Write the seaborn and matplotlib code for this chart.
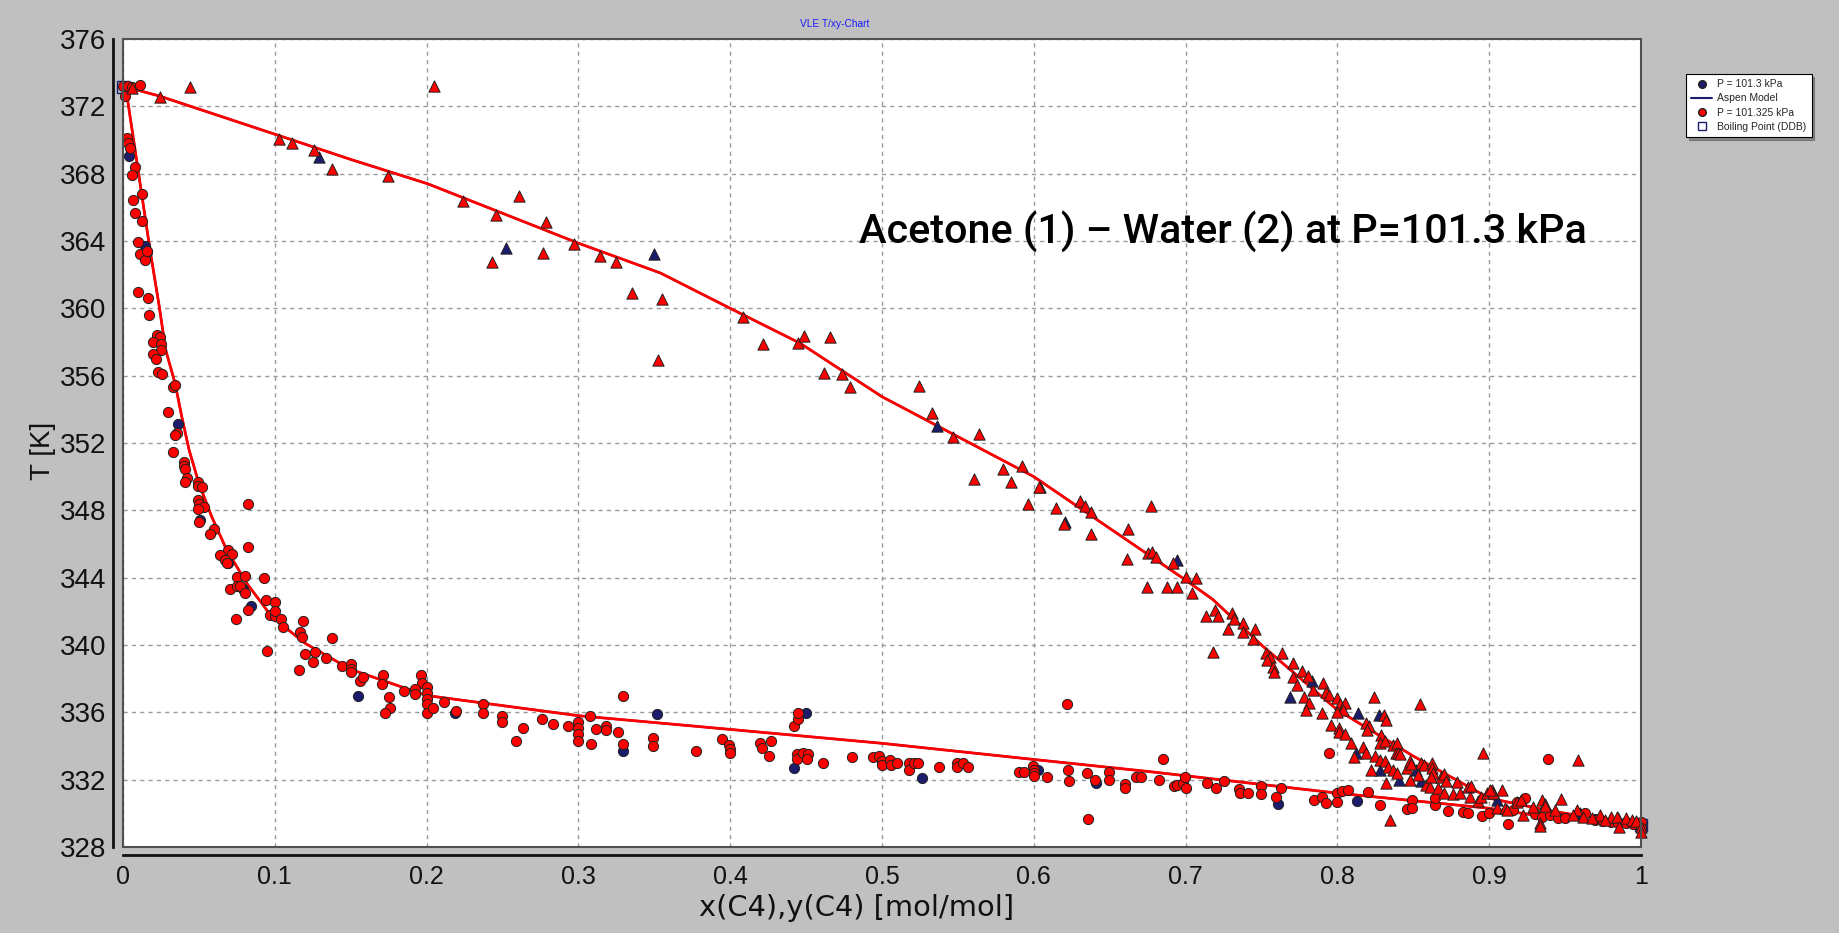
import numpy as np
import pandas as pd
import matplotlib
matplotlib.use("Agg")
import matplotlib.pyplot as plt
from matplotlib.lines import Line2D
from matplotlib.patches import Rectangle
from matplotlib.ticker import FixedLocator, FixedFormatter, MultipleLocator
import seaborn as sns

# ---------------------------------------------------------------- data
# Liquid phase x(1) [mol/mol], T [K]  -- P = 101.325 kPa (red)
liq_red_x = [0.000, 0.003, 0.006, 0.0112, 0.0013, 0.0024, 0.0030, 0.0046, 0.0079, 0.0057,
             0.0123, 0.0068, 0.0079, 0.0123, 0.0101, 0.016, 0.0112, 0.0145, 0.0156, 0.0097,
             0.0163, 0.0171, 0.0222, 0.0244, 0.0196, 0.025, 0.025, 0.0196, 0.0215, 0.0228,
             0.0259, 0.0332, 0.0345, 0.0299, 0.0354, 0.0345, 0.0327, 0.0402, 0.0404, 0.0409,
             0.042, 0.0409, 0.0497, 0.0497, 0.0518, 0.0497, 0.0499, 0.0536, 0.0497, 0.0821,
             0.0499, 0.06, 0.0573, 0.0821, 0.0694, 0.0716, 0.0639, 0.0672, 0.0683, 0.0749,
             0.0804, 0.0931, 0.0705, 0.0749, 0.0768, 0.0804, 0.094, 0.1001, 0.0742, 0.0821,
             0.0971, 0.1, 0.1, 0.104, 0.1056, 0.0946, 0.1188, 0.1166, 0.118, 0.12,
             0.1162, 0.1265, 0.1254, 0.1379, 0.1337, 0.144, 0.1502, 0.1502, 0.15, 0.1561,
             0.158, 0.171, 0.1706, 0.1752, 0.1759, 0.1726, 0.1851, 0.1961, 0.1968, 0.1924,
             0.1924, 0.2, 0.2, 0.2, 0.2, 0.2, 0.204, 0.2117, 0.2194, 0.237,
             0.237, 0.2499, 0.2499, 0.2633, 0.2589, 0.2762, 0.2835, 0.293, 0.2995, 0.2995,
             0.2995, 0.2995, 0.3076, 0.3081, 0.3116, 0.318, 0.318, 0.3259, 0.3296, 0.3296,
             0.3494, 0.3494, 0.3773, 0.3944, 0.3992, 0.4, 0.4, 0.4196, 0.4207, 0.4269,
             0.4256, 0.4422, 0.4444, 0.4444, 0.4438, 0.4438, 0.4481, 0.4513, 0.4509, 0.4609,
             0.48, 0.4943, 0.4983, 0.5, 0.5, 0.5053, 0.5057, 0.5096, 0.518, 0.518,
             0.521, 0.5239, 0.5378, 0.5492, 0.5496, 0.5536, 0.5568, 0.5905, 0.5936, 0.5993,
             0.6, 0.6, 0.6, 0.6085, 0.6217, 0.6227, 0.6234, 0.6349, 0.6403, 0.6359,
             0.6497, 0.6497, 0.66, 0.66, 0.6673, 0.6704, 0.6849, 0.6827, 0.6924, 0.6946,
             0.6981, 0.6997, 0.7, 0.7143, 0.72, 0.7253, 0.7354, 0.7358, 0.7409, 0.7495,
             0.7495, 0.7596, 0.7627, 0.7947, 0.7848, 0.7897, 0.7925, 0.7995, 0.7995, 0.8028,
             0.8072, 0.82, 0.8281, 0.8461, 0.849, 0.849, 0.8643, 0.8643, 0.8727, 0.8826,
             0.8858, 0.895, 0.9, 0.9126, 0.916, 0.918, 0.9236, 0.939, 0.93, 0.935,
             0.94, 0.945, 0.95, 0.9631, 0.97, 0.975, 0.98, 0.985, 0.99, 0.995,
             1.0, 1.0, 1.0]
liq_red_T = [373.2, 373.2, 373.15, 373.28, 372.62, 370.1, 369.8, 369.5, 368.4, 367.9,
             366.78, 366.44, 365.65, 365.2, 363.93, 363.33, 363.2, 362.9, 363.4, 361.0,
             360.6, 359.6, 358.4, 358.3, 358.0, 357.9, 357.5, 357.3, 357.0, 356.2,
             356.1, 355.35, 355.45, 353.87, 352.6, 352.45, 351.45, 350.9, 350.66, 350.44,
             349.95, 349.7, 349.7, 349.45, 349.37, 348.6, 348.36, 348.22, 348.1, 348.36,
             347.3, 346.9, 346.6, 345.8, 345.65, 345.4, 345.35, 345.05, 344.85, 344.06,
             344.1, 344.0, 343.3, 343.5, 343.5, 343.1, 342.7, 342.53, 341.55, 342.1,
             341.8, 341.7, 342.0, 341.53, 341.05, 339.65, 341.45, 340.8, 340.5, 339.45,
             338.5, 339.6, 339.0, 340.43, 339.25, 338.77, 338.85, 338.6, 338.4, 337.86,
             338.1, 338.2, 337.7, 336.93, 336.24, 335.94, 337.29, 338.22, 337.73, 337.4,
             337.1, 337.52, 337.12, 336.78, 336.5, 335.98, 336.24, 336.63, 336.08, 336.5,
             335.95, 335.8, 335.45, 335.05, 334.32, 335.58, 335.3, 335.2, 335.45, 335.09,
             334.7, 334.32, 335.8, 334.1, 334.99, 335.2, 334.95, 334.81, 336.97, 334.1,
             334.5, 333.98, 333.72, 334.4, 334.06, 333.8, 333.57, 334.2, 333.9, 334.32,
             333.43, 335.2, 335.6, 335.94, 333.53, 333.2, 333.6, 333.53, 333.25, 333.0,
             333.33, 333.37, 333.4, 333.1, 332.9, 333.17, 332.9, 333.0, 333.0, 332.6,
             333.0, 332.97, 332.73, 333.0, 332.73, 333.0, 332.73, 332.43, 332.43, 332.83,
             332.6, 332.4, 332.23, 332.14, 336.5, 332.6, 331.9, 332.42, 332.0, 329.65,
             332.43, 332.0, 331.72, 331.5, 332.18, 332.18, 333.2, 331.98, 331.62, 331.68,
             331.82, 332.18, 331.5, 331.78, 331.52, 331.94, 331.43, 331.2, 331.19, 331.64,
             331.12, 330.99, 331.52, 333.6, 330.8, 330.99, 330.63, 331.23, 330.7, 331.3,
             331.4, 331.29, 330.5, 330.26, 330.8, 330.3, 330.5, 330.9, 330.16, 330.1,
             330.02, 329.84, 330.0, 329.37, 330.2, 330.7, 330.9, 333.2, 329.95, 329.8,
             329.9, 329.75, 329.7, 330.0, 329.6, 329.55, 329.5, 329.45, 329.4, 329.35,
             329.3, 329.5, 329.15]

# Liquid phase -- P = 101.3 kPa (navy)
liq_navy_x = [0.0042, 0.0145, 0.036, 0.0507, 0.0694, 0.079, 0.0843, 0.1546, 0.2187, 0.3296,
              0.3515, 0.4497, 0.4422, 0.5261, 0.603, 0.641, 0.7607, 0.8127, 0.97, 0.99]
liq_navy_T = [369.06, 363.7, 353.1, 347.4, 344.9, 343.3, 342.3, 336.97, 335.98, 333.72,
              335.9, 335.94, 332.67, 332.08, 332.6, 331.8, 330.55, 330.73, 329.65, 329.5]

# Vapour phase y(1) [mol/mol], T [K]  -- P = 101.325 kPa (red)
vap_red_y = [0.0057, 0.0441, 0.0244, 0.2048, 0.1028, 0.1115, 0.1258, 0.1379, 0.1744, 0.2238,
             0.2611, 0.2457, 0.2787, 0.2429, 0.2769, 0.2971, 0.3142, 0.3248, 0.3351, 0.3549,
             0.3522, 0.4086, 0.4218, 0.4444, 0.4488, 0.4657, 0.4618, 0.4739, 0.4789, 0.5246,
             0.5332, 0.547, 0.5641, 0.5606, 0.5799, 0.585, 0.592, 0.6036, 0.5964, 0.6146,
             0.62, 0.6304, 0.6337, 0.6375, 0.6375, 0.6623, 0.6616, 0.677, 0.6755, 0.6777,
             0.6805, 0.6919, 0.6748, 0.688, 0.6941, 0.7001, 0.7066, 0.7044, 0.7134, 0.7194,
             0.7216, 0.7303, 0.7321, 0.7282, 0.738, 0.738, 0.7457, 0.7446, 0.7183, 0.753,
             0.7556, 0.7534, 0.7633, 0.7574, 0.7582, 0.7705, 0.7705, 0.7736, 0.7765, 0.7809,
             0.7903, 0.778, 0.7815, 0.7793, 0.7841, 0.7896, 0.7925, 0.7947, 0.7995, 0.8017,
             0.8049, 0.8038, 0.8, 0.8243, 0.8309, 0.832, 0.8544, 0.7958, 0.8011, 0.8011,
             0.8049, 0.8088, 0.8187, 0.8209, 0.8192, 0.8287, 0.8281, 0.8314, 0.8171, 0.8189,
             0.8109, 0.8248, 0.8368, 0.8391, 0.8384, 0.8281, 0.8314, 0.8336, 0.822, 0.8369,
             0.8391, 0.8402, 0.8413, 0.8461, 0.8475, 0.8487, 0.853, 0.8552, 0.8568, 0.8621,
             0.8621, 0.8632, 0.8475, 0.8583, 0.8613, 0.8618, 0.8321, 0.8682, 0.8704, 0.8717,
             0.8661, 0.8704, 0.876, 0.8785, 0.8806, 0.8861, 0.8883, 0.8876, 0.8926, 0.8949,
             0.8956, 0.8983, 0.9016, 0.9027, 0.9082, 0.9049, 0.9105, 0.918, 0.9225, 0.9291,
             0.9346, 0.9335, 0.9368, 0.9587, 0.9005, 0.9115, 0.9207, 0.9471, 0.937, 0.9431,
             0.9335, 0.9578, 0.9731, 0.98, 0.984, 0.9855, 0.99, 0.994, 0.997, 1.0,
             1.0, 0.8347, 0.955, 0.962, 0.968, 0.976]
vap_red_T = [373.08, 373.17, 372.58, 373.2, 370.07, 369.8, 369.4, 368.26, 367.87, 366.4,
             366.68, 365.55, 365.15, 362.74, 363.27, 363.83, 363.13, 362.74, 360.94, 360.56,
             356.94, 359.51, 357.87, 357.93, 358.36, 358.28, 356.15, 356.1, 355.3, 355.4,
             353.8, 352.38, 352.54, 349.87, 350.44, 349.67, 350.66, 349.37, 348.38, 348.16,
             347.2, 348.56, 348.28, 347.93, 346.57, 346.87, 345.1, 348.28, 345.45, 345.5,
             345.2, 344.86, 343.47, 343.47, 343.47, 344.06, 344.0, 343.07, 341.73, 342.08,
             341.73, 341.92, 341.55, 340.93, 341.33, 340.76, 340.93, 340.34, 339.6, 339.55,
             339.3, 339.1, 339.5, 338.7, 338.4, 338.95, 338.1, 337.63, 338.48, 338.16,
             337.76, 336.93, 336.58, 336.14, 337.33, 335.94, 337.2, 337.03, 336.83, 336.5,
             336.58, 336.14, 336.0, 336.93, 335.84, 335.55, 336.48, 335.25, 335.06, 334.85,
             334.73, 334.2, 335.39, 335.16, 334.98, 334.65, 334.2, 334.3, 333.96, 333.6,
             333.37, 333.4, 334.06, 334.2, 333.6, 333.17, 333.08, 332.77, 332.55, 332.57,
             332.37, 333.6, 333.5, 332.67, 333.13, 332.93, 332.3, 333.0, 332.86, 333.0,
             332.67, 332.37, 332.0, 331.67, 331.58, 332.18, 331.82, 332.18, 332.33, 331.92,
             331.5, 331.23, 331.14, 331.88, 331.23, 331.58, 331.64, 330.96, 330.73, 330.96,
             333.57, 331.23, 331.41, 331.23, 331.41, 330.3, 330.3, 330.65, 329.9, 330.35,
             330.8, 329.43, 330.55, 333.17, 331.38, 330.2, 330.8, 330.85, 330.45, 330.2,
             329.25, 330.2, 329.9, 329.8, 329.8, 329.2, 329.7, 329.6, 329.55, 329.2,
             328.9, 329.6, 329.9, 329.8, 329.75, 329.6]

# Vapour phase -- P = 101.3 kPa (navy)
vap_navy_y = [0.1291, 0.2523, 0.3498, 0.5364, 0.6041, 0.6206, 0.6945, 0.7835, 0.7688, 0.8138,
              0.8276, 0.8123, 0.8281, 0.852, 0.8408, 0.8552, 0.905, 0.96, 0.985]
vap_navy_T = [368.98, 363.57, 363.2, 353.03, 349.38, 347.33, 345.05, 337.88, 336.9, 335.94,
              335.84, 333.6, 332.57, 332.55, 331.98, 331.9, 330.8, 330.0, 329.7]

# Aspen model: bubble (liquid) and dew (vapour) curves
model_liq_x = [0.0, 0.002, 0.0178, 0.0239, 0.0281, 0.0343, 0.0387, 0.0435, 0.05, 0.0584,
               0.0683, 0.0815, 0.098, 0.12, 0.15, 0.2, 0.3, 0.38, 0.5, 0.6,
               0.677, 0.8, 0.9, 0.94, 1.0]
model_liq_T = [373.2, 373.0, 363.47, 360.1, 357.53, 355.55, 353.57, 351.6, 349.6, 347.63,
               345.65, 343.67, 341.68, 340.1, 338.55, 337.0, 335.8, 335.15, 334.16, 333.2,
               332.47, 331.2, 330.3, 329.75, 329.35]
model_vap_y = [0.0, 0.0244, 0.1166, 0.1495, 0.2007, 0.3, 0.354, 0.40, 0.446, 0.50,
               0.6, 0.70, 0.718, 0.7512, 0.8, 0.85, 0.9, 0.94, 0.964, 1.0]
model_vap_T = [373.2, 372.6, 369.85, 368.86, 367.4, 363.87, 362.1, 360.0, 357.93, 354.75,
               350.0, 343.86, 342.7, 339.9, 336.14, 333.4, 330.9, 330.15, 329.8, 329.35]

# Pure-component boiling points (DDB)
boil_x = [0.0, 1.0]
boil_T = [373.15, 329.3]

xtick_values = [0.0, 0.1, 0.2, 0.3, 0.4, 0.5, 0.6, 0.7, 0.8, 0.9, 1.0]
xtick_labels = ["0", "0.1", "0.2", "0.3", "0.4", "0.5", "0.6", "0.7", "0.8", "0.9", "1"]
ytick_values = [328, 332, 336, 340, 344, 348, 352, 356, 360, 364, 368, 372, 376]

# ---------------------------------------------------------------- style
sns.set_style("white")
plt.rcParams["font.family"] = ["Liberation Sans", "DejaVu Sans"]

RED = "#ff0000"
NAVY = "#1c1c6c"
BG = "#c0c0c0"

W, H = 1839, 933
fig = plt.figure(figsize=(W / 100, H / 100), dpi=100, facecolor=BG)
L, R, B, T = 123, 1641, 847, 39
ax = fig.add_axes([L / W, 1 - B / H, (R - L) / W, (B - T) / H])
ax.set_facecolor("white")

# model curves (navy underneath, red on top)
df_ml = pd.DataFrame({"x": model_liq_x, "T": model_liq_T})
df_mv = pd.DataFrame({"x": model_vap_y, "T": model_vap_T})
for d in (df_ml, df_mv):
    sns.lineplot(data=d, x="x", y="T", sort=False, color=NAVY, lw=1.6, ax=ax, zorder=2)
    sns.lineplot(data=d, x="x", y="T", sort=False, color=RED, lw=2.0, ax=ax, zorder=2.1)

# boiling points
sns.scatterplot(x=boil_x, y=boil_T, marker="s", s=70, facecolor="none",
                edgecolor=NAVY, linewidth=1.0, ax=ax, zorder=2.5, clip_on=False)

# experimental points
circ = dict(s=54, edgecolor="#202020", linewidth=0.7, ax=ax, clip_on=False)
tri = dict(s=66, edgecolor="#202020", linewidth=0.7, ax=ax, clip_on=False)
sns.scatterplot(x=liq_navy_x, y=liq_navy_T, marker="o", color=NAVY, zorder=3, **circ)
sns.scatterplot(x=vap_navy_y, y=vap_navy_T, marker="^", color=NAVY, zorder=3, **tri)
sns.scatterplot(x=liq_red_x, y=liq_red_T, marker="o", color=RED, zorder=4, **circ)
sns.scatterplot(x=vap_red_y, y=vap_red_T, marker="^", color=RED, zorder=4, **tri)

# axes ranges / ticks
ax.set_xlim(0, 1)
ax.set_ylim(328, 376)
ax.xaxis.set_major_locator(FixedLocator(xtick_values))
ax.xaxis.set_major_formatter(FixedFormatter(xtick_labels))
ax.xaxis.set_minor_locator(MultipleLocator(0.025))
ax.yaxis.set_major_locator(FixedLocator(ytick_values))
ax.yaxis.set_minor_locator(MultipleLocator(1))
ax.tick_params(axis="both", which="major", direction="out", length=4, width=1,
               color="#606060", labelcolor="#111111")
ax.tick_params(axis="x", which="major", labelsize=18, pad=3)
ax.tick_params(axis="y", which="major", labelsize=20, pad=1)
ax.tick_params(axis="both", which="minor", direction="out", length=2.5, width=0.8,
               color="#808080")

ax.grid(True, which="major", linestyle=(0, (3, 3)), color="#9a9a9a", lw=1.0)
ax.set_axisbelow(True)

# frame: plot area border + offset axis lines
for side in ("top", "right"):
    ax.spines[side].set_color("#202020")
    ax.spines[side].set_linewidth(1.2)
ax.spines["left"].set_position(("outward", 7))
ax.spines["bottom"].set_position(("outward", 6))
for side in ("left", "bottom"):
    ax.spines[side].set_color("#111111")
    ax.spines[side].set_linewidth(2.0)
ax.add_patch(Rectangle((0, 0), 1, 1, transform=ax.transAxes, fill=False,
                       edgecolor="#505050", lw=1.5, zorder=5, clip_on=False))

ax.set_xlabel("x(C4),y(C4) [mol/mol]", fontsize=20.8, family="DejaVu Sans",
              color="#111111")
ax.set_ylabel("T [K]", fontsize=20, color="#111111")
ax.xaxis.set_label_coords(0.4835, -0.058)
ax.yaxis.set_label_coords(-0.044, 0.49)

# chart caption and system label
fig.text(835 / W, 1 - 24 / H, "VLE T/xy-Chart", fontsize=7.3, color="#1a1aff",
         ha="center", va="center")
fig.text(1223 / W, 1 - 231 / H, "Acetone (1) \u2013 Water (2) at P=101.3 kPa",
         fontsize=29.8, family="Roboto", weight="medium", color="black",
         ha="center", va="center")

# legend
handles = [
    Line2D([], [], marker="o", ls="none", color=NAVY, markeredgecolor="#202020",
           markersize=5.5),
    Line2D([], [], color=NAVY, lw=1.5),
    Line2D([], [], marker="o", ls="none", color=RED, markeredgecolor="#202020",
           markersize=5.5),
    Line2D([], [], marker="s", ls="none", markerfacecolor="none",
           markeredgecolor=NAVY, markersize=5.5),
]
labels = ["P = 101.3 kPa", "Aspen Model", "P = 101.325 kPa", "Boiling Point (DDB)"]
leg = fig.legend(handles, labels, loc="upper left",
                 bbox_to_anchor=(1686 / W, 1 - 74 / H), borderaxespad=0,
                 fontsize=7.5, frameon=True, fancybox=False, shadow=True,
                 framealpha=1, edgecolor="black", handlelength=2.0,
                 handletextpad=0.5, borderpad=0.5, labelspacing=0.4)
leg.get_frame().set_linewidth(0.8)

fig.savefig("out.png", dpi=100, facecolor=BG)
